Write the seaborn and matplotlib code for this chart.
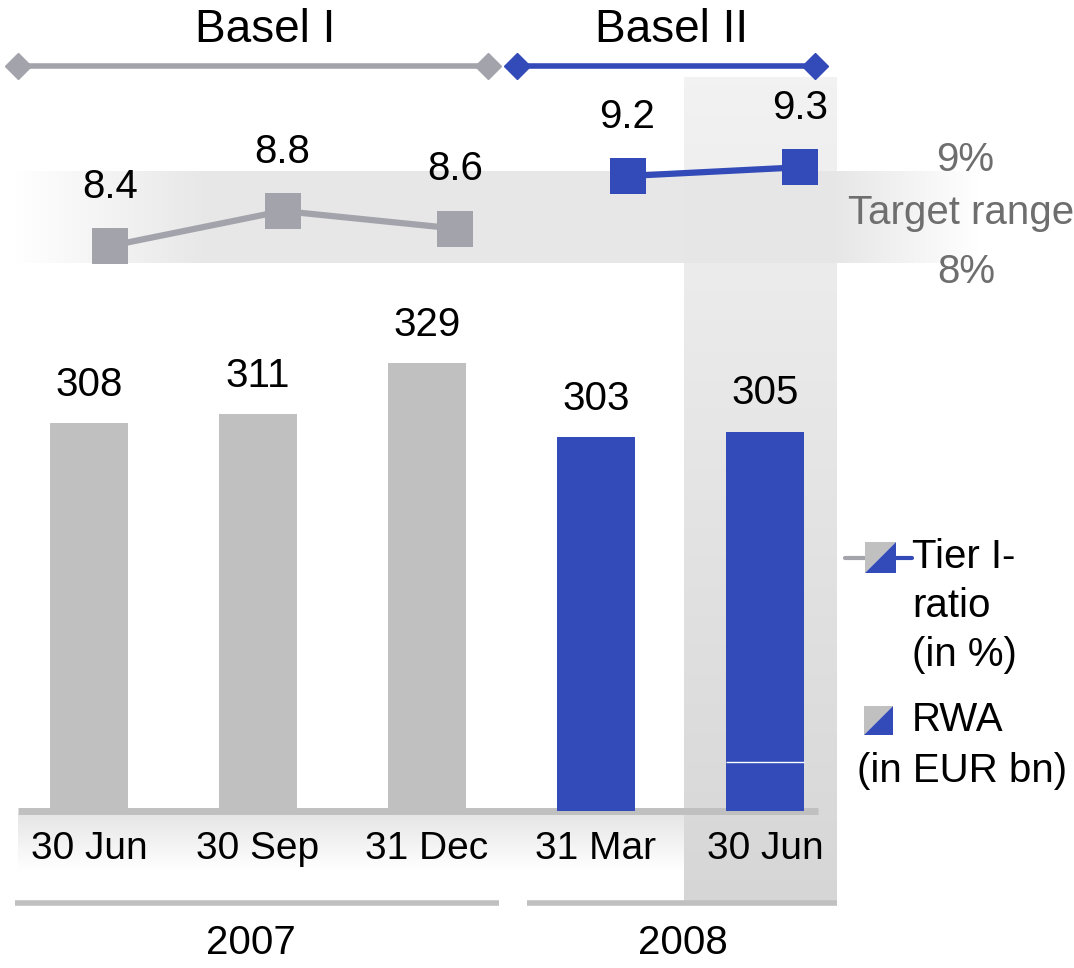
import numpy as np
import pandas as pd
import matplotlib
matplotlib.use("Agg")
import matplotlib.pyplot as plt
from matplotlib.patches import Polygon
import seaborn as sns

# ---- data -------------------------------------------------------------
quarters = ["30 Jun", "30 Sep", "31 Dec", "31 Mar", "30 Jun"]
years = ["2007", "2007", "2007", "2008", "2008"]
regime = ["Basel I", "Basel I", "Basel I", "Basel II", "Basel II"]
rwa = [308, 311, 329, 303, 305]            # RWA in EUR bn
tier1 = [8.4, 8.8, 8.6, 9.2, 9.3]          # Tier I ratio in %
year_labels = ["2007", "2008"]
regime_labels = ["Basel I", "Basel II"]

GREY_BAR = "#c0c0c0"
GREY_LINE = "#a3a3ab"
BLUE = "#334bb8"
TEXT_GREY = "#6e6e6e"

sns.set_theme(style="white")
plt.rcParams["font.family"] = ["Liberation Sans", "DejaVu Sans"]

W, H = 1074, 968
fig = plt.figure(figsize=(W / 100, H / 100), dpi=100)


def frac_rect(x0, y0, x1, y1):
    """Pixel box (top-left origin) -> figure fraction rect."""
    return [x0 / W, 1 - y1 / H, (x1 - x0) / W, (y1 - y0) / H]


# ---- decoration layer (pixel space) ----------------------------------
deco = fig.add_axes([0, 0, 1, 1], zorder=0)
deco.set_xlim(0, W)
deco.set_ylim(H, 0)
deco.axis("off")

# highlighted latest quarter: vertical gradient column
col = np.linspace(0.95, 0.84, 256).reshape(-1, 1)
col_img = np.dstack([col, col, col])
deco.imshow(col_img, extent=(684, 837, 905, 77), aspect="auto", zorder=1,
            interpolation="bilinear")

# target range band with faded ends
xs = np.linspace(0, W, 600)
alpha = np.clip((xs - 15) / 190, 0, 1) * np.clip((980 - xs) / 140, 0, 1)
alpha = np.where(xs < 15, 0, alpha)
band = np.zeros((1, len(xs), 4))
band[..., :3] = 0.905
band[..., 3] = alpha * 0.95
deco.imshow(band, extent=(0, W, 263, 171), aspect="auto", zorder=2,
            interpolation="bilinear")

# gradient behind the quarter labels
ys = np.linspace(0, 1, 200)
g = 0.90 + 0.10 * np.clip(ys / 0.85, 0, 1)
lab_img = np.dstack([g, g, g]).reshape(-1, 1, 3)
deco.imshow(lab_img, extent=(18, 684, 880, 814), aspect="auto", zorder=1,
            interpolation="bilinear")

# baseline and year separators
deco.plot([18, 818], [811, 811], color=GREY_BAR, lw=5, solid_capstyle="butt", zorder=3)
deco.plot([15, 499], [903, 903], color=GREY_BAR, lw=4, solid_capstyle="butt", zorder=3)
deco.plot([527, 837], [903, 903], color=GREY_BAR, lw=4, solid_capstyle="butt", zorder=3)
deco.text(251, 943, year_labels[0], ha="center", va="center", fontsize=29, color="black")
deco.text(683, 943, year_labels[1], ha="center", va="center", fontsize=29, color="black")

# regime header lines with diamond ends
deco.plot([18, 488], [66, 66], color=GREY_LINE, lw=4, zorder=3)
deco.plot([18, 488], [66, 66], ls="none", marker="D", ms=13, color=GREY_LINE, zorder=4)
deco.plot([517, 815], [66, 66], color=BLUE, lw=4, zorder=3)
deco.plot([517, 815], [66, 66], ls="none", marker="D", ms=13, color=BLUE, zorder=4)
deco.text(265, 30, regime_labels[0], ha="center", va="center", fontsize=33, color="black")
deco.text(672, 30, regime_labels[1], ha="center", va="center", fontsize=33, color="black")

# target range annotations
deco.text(965, 160, "9%", ha="center", va="center", fontsize=29, color=TEXT_GREY)
deco.text(961, 213, "Target range", ha="center", va="center", fontsize=29, color=TEXT_GREY)
deco.text(966, 272, "8%", ha="center", va="center", fontsize=29, color=TEXT_GREY)

# legend
def split_square(x0, y0, s, z=5):
    deco.add_patch(Polygon([(x0, y0), (x0 + s, y0), (x0, y0 + s)], closed=True,
                           color=GREY_BAR, lw=0, zorder=z))
    deco.add_patch(Polygon([(x0 + s, y0), (x0 + s, y0 + s), (x0, y0 + s)], closed=True,
                           color=BLUE, lw=0, zorder=z))

deco.plot([845, 867], [558, 558], color=GREY_LINE, lw=3, zorder=4)
deco.plot([893, 912], [558, 558], color=BLUE, lw=3, zorder=4)
split_square(865, 542, 31)
deco.text(912, 557, "Tier I-", ha="left", va="center", fontsize=29, color="black")
deco.text(912, 606, "ratio", ha="left", va="center", fontsize=29, color="black")
deco.text(912, 655, "(in %)", ha="left", va="center", fontsize=29, color="black")
split_square(864, 706, 29)
deco.text(912, 720, "RWA", ha="left", va="center", fontsize=29, color="black")
deco.text(962, 771, "(in EUR bn)", ha="center", va="center", fontsize=29, color="black")

# ---- RWA bars ---------------------------------------------------------
df = pd.DataFrame({"pos": range(len(quarters)), "quarter": quarters,
                   "regime": regime, "rwa": rwa, "tier1": tier1, "year": years})

PX_PER_BN = 2.857
Y0 = 172.2                     # value at the baseline
bar_top_px = 300
ax = fig.add_axes(frac_rect(4.5, bar_top_px, 849.5, 811), zorder=2)
ax.patch.set_alpha(0)
sns.barplot(data=df, x="pos", y="rwa", hue="regime", dodge=False,
            palette={"Basel I": GREY_BAR, "Basel II": BLUE}, width=0.46,
            saturation=1, legend=False, ax=ax, order=list(range(len(quarters))),
            linewidth=0, edgecolor="none")
ax.set_xlim(-0.5, 4.5)
ax.set_ylim(Y0, Y0 + (811 - bar_top_px) / PX_PER_BN)
ax.axis("off")
for p, v in zip(df["pos"], df["rwa"]):
    ax.annotate(f"{v}", (p, v), xytext=(0, 14), textcoords="offset points",
                ha="center", va="bottom", fontsize=29, color="black")
# thin split line inside the latest bar
ax.hlines(Y0 + 49 / PX_PER_BN, 4 - 0.23, 4 + 0.23, color="white", lw=1)

# x category labels
for p, q in zip(df["pos"], df["quarter"]):
    ax.text(p, Y0 - 38 / PX_PER_BN, q, ha="center", va="center", fontsize=28,
            color="black", clip_on=False)

# ---- Tier I ratio lines ----------------------------------------------
PX_PER_PCT = 87.5
lax = fig.add_axes(frac_rect(23.75, 100, 886.25, 300), zorder=3)
lax.patch.set_alpha(0)
sns.lineplot(data=df, x="pos", y="tier1", hue="regime",
             palette={"Basel I": GREY_LINE, "Basel II": BLUE},
             marker="s", markersize=26, markeredgewidth=0, lw=4.5,
             legend=False, ax=lax)
lax.set_xlim(-0.5, 4.5)
lax.set_ylim(8.4 - 54 / PX_PER_PCT, 8.4 + 146 / PX_PER_PCT)
lax.axis("off")
for p, v in zip(df["pos"], df["tier1"]):
    lax.annotate(f"{v:.1f}", (p, v), xytext=(0, 42.5), textcoords="offset points",
                 ha="center", va="center", fontsize=29, color="black")

fig.savefig("out.png", dpi=100)
